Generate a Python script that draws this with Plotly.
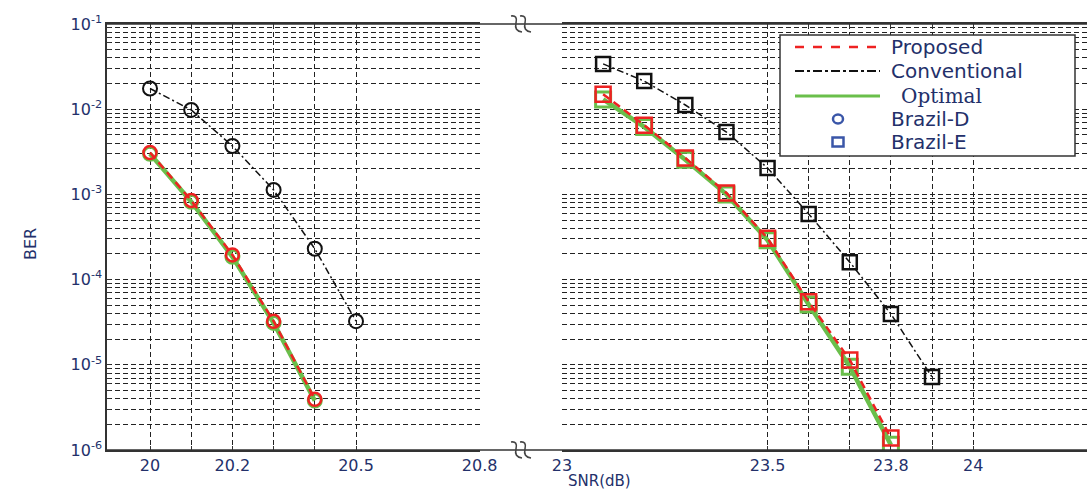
import plotly.graph_objects as go

# ---------------- data ----------------
snr_d_conv = [20.0, 20.1, 20.2, 20.3, 20.4, 20.5]
ber_d_conv = [1.75e-2, 9.8e-3, 3.7e-3, 1.13e-3, 2.3e-4, 3.25e-5]
snr_d_prop = [20.0, 20.1, 20.2, 20.3, 20.4]
ber_d_prop = [3.1e-3, 8.5e-4, 1.95e-4, 3.25e-5, 3.95e-6]
ber_d_opt = [3.0e-3, 8.2e-4, 1.85e-4, 3.1e-5, 3.8e-6]

snr_e_conv = [23.1, 23.2, 23.3, 23.4, 23.5, 23.6, 23.7, 23.8, 23.9]
ber_e_conv = [3.4e-2, 2.14e-2, 1.12e-2, 5.4e-3, 2.04e-3, 5.9e-4, 1.6e-4, 3.95e-5, 7.2e-6]
snr_e_prop = [23.1, 23.2, 23.3, 23.4, 23.5, 23.6, 23.7, 23.8]
ber_e_prop = [1.5e-2, 6.5e-3, 2.67e-3, 1.04e-3, 3.05e-4, 5.5e-5, 1.14e-5, 1.38e-6]
ber_e_opt = [1.3e-2, 6.2e-3, 2.55e-3, 1.0e-3, 2.9e-4, 5.1e-5, 9.5e-6, 1.15e-6]

x1_ticks = [20.0, 20.1, 20.2, 20.3, 20.4, 20.5, 20.8]
x1_labels = ["20", "", "20.2", "", "", "20.5", "20.8"]
x2_ticks = [23.0, 23.5, 23.6, 23.7, 23.8, 23.9, 24.0]
x2_labels = ["23", "23.5", "", "", "23.8", "", "24"]
y_decades = [-6, -5, -4, -3, -2, -1]

legend_names = ["Proposed", "Conventional", "Optimal", "Brazil-D", "Brazil-E"]

# ---------------- styles ----------------
RED = "#ee2222"
GREEN = "#6abf4b"
BLACK = "#111111"
BLUE = "#3a56a8"
TXT = "#23306a"
GRID = "#222222"

W, H = 1087, 491
ML, MR, MT, MB = 107, 0, 24, 41
PW, PH = W - ML - MR, H - MT - MB


def px(x):
    return (x - ML) / PW


def py(y):
    return (H - MB - y) / PH


yvals, ytext = [], []
for d in y_decades:
    for k in range(1, 10):
        if d == -1 and k > 1:
            break
        yvals.append(k * 10.0 ** d)
        ytext.append("10<sup>%d</sup>" % d if k == 1 else "")

fig = go.Figure()


def add_series(x, y, xa, ya, color, width, dash, symbol, msize, mwidth):
    fig.add_trace(go.Scatter(
        x=x, y=y, xaxis=xa, yaxis=ya, mode="lines+markers",
        line=dict(color=color, width=width, dash=dash),
        marker=dict(symbol=symbol, size=msize, color=color,
                    line=dict(color=color, width=mwidth)),
        showlegend=False, hoverinfo="x+y"))


# left segment (Brazil-D, circles)
add_series(snr_d_prop, ber_d_opt, "x", "y", GREEN, 4.5, "solid", "circle-open", 13, 3)
add_series(snr_d_prop, ber_d_prop, "x", "y", RED, 2.5, "8px,5px", "circle-open", 13, 2.5)
add_series(snr_d_conv, ber_d_conv, "x", "y", BLACK, 1.5, "7px,3px,2px,3px", "circle-open", 14, 2)
# right segment (Brazil-E, squares)
add_series(snr_e_prop, ber_e_opt, "x2", "y2", GREEN, 4.5, "solid", "square-open", 15, 3)
add_series(snr_e_prop, ber_e_prop, "x2", "y2", RED, 2.5, "8px,5px", "square-open", 15, 2.5)
add_series(snr_e_conv, ber_e_conv, "x2", "y2", BLACK, 1.5, "7px,3px,2px,3px", "square-open", 14, 2.5)

tickfont = dict(family="DejaVu Sans", size=16, color=TXT)
xcommon = dict(showgrid=True, gridcolor=GRID, griddash="5px,3px", gridwidth=1,
               showline=True, linecolor="#333333", linewidth=1.5, mirror="ticks",
               ticks="inside", ticklen=4, tickcolor="#333333", automargin=False,
               tickmode="array", tickfont=tickfont, zeroline=False)

fig.update_layout(
    template="none",
    width=W, height=H, autosize=False,
    margin=dict(l=ML, r=MR, t=MT, b=MB, pad=0, autoexpand=False),
    paper_bgcolor="white", plot_bgcolor="white",
    showlegend=False,
    xaxis=dict(domain=[0, px(480)], range=[19.8956, 20.801],
               tickvals=x1_ticks, ticktext=x1_labels, anchor="y", **xcommon),
    xaxis2=dict(domain=[px(562), 1], range=[23.0, 24.277],
                tickvals=x2_ticks, ticktext=x2_labels, anchor="y2", **xcommon),
    yaxis=dict(type="log", range=[-6, -1], domain=[0, 1], anchor="x",
               tickmode="array", tickvals=yvals, ticktext=ytext, automargin=False,
               showgrid=True, gridcolor=GRID, griddash="5px,3px", gridwidth=1,
               showline=True, linecolor="#333333", linewidth=1.5,
               ticks="inside", ticklen=4, tickcolor="#333333",
               tickfont=tickfont, zeroline=False),
    yaxis2=dict(type="log", range=[-6, -1], domain=[0, 1], anchor="x2", matches="y",
                tickmode="array", tickvals=yvals, ticktext=ytext, automargin=False,
                showticklabels=False, showgrid=True, gridcolor=GRID,
                griddash="5px,3px", gridwidth=1, ticks="", showline=False,
                zeroline=False),
)

shapes = []
# continuous top and bottom frame lines across the break
for yy in (0, 1):
    shapes.append(dict(type="line", xref="paper", yref="paper", x0=0, x1=1, y0=yy, y1=yy,
                       line=dict(color="#333333", width=1.5)))
# break marks
for yy in (1, 0):
    for dx in (-5, 4):
        shapes.append(dict(type="path", xref="paper", yref="paper",
                           xsizemode="pixel", ysizemode="pixel",
                           xanchor=px(522), yanchor=yy,
                           path="M %d,8 Q %d,9 %d,1 Q %d,-7 %d,-8" % (dx - 6, dx + 1, dx - 1, dx - 3, dx + 5),
                           line=dict(color="#444444", width=1.6)))

# legend box
shapes.append(dict(type="rect", xref="paper", yref="paper",
                   x0=px(780), x1=px(1075), y0=py(156), y1=py(35),
                   fillcolor="white", line=dict(color="#333333", width=1.5), layer="above"))
leg_rows = [47, 71, 96, 119, 142]
leg_styles = [(RED, 2.5, "dash"), (BLACK, 2, "dashdot"), (GREEN, 3, "solid")]
for (col, wd, ds), yy in zip(leg_styles, leg_rows[:3]):
    shapes.append(dict(type="line", xref="paper", yref="paper", layer="above",
                       x0=px(795), x1=px(880), y0=py(yy), y1=py(yy),
                       line=dict(color=col, width=wd, dash=ds)))
shapes.append(dict(type="circle", xref="paper", yref="paper", layer="above",
                   xsizemode="pixel", ysizemode="pixel", xanchor=px(838), yanchor=py(leg_rows[3]),
                   x0=-5, x1=5, y0=-4.5, y1=4.5, line=dict(color=BLUE, width=2.5)))
shapes.append(dict(type="rect", xref="paper", yref="paper", layer="above",
                   xsizemode="pixel", ysizemode="pixel", xanchor=px(838), yanchor=py(leg_rows[4]),
                   x0=-5.5, x1=5.5, y0=-4.5, y1=4.5, line=dict(color=BLUE, width=2.5)))
fig.update_layout(shapes=shapes)

annotations = []
for i, (name, yy) in enumerate(zip(legend_names, leg_rows)):
    if name == "Optimal":
        fam, size, xx = "DejaVu Serif", 20, 899
    else:
        fam, size, xx = "DejaVu Sans", 20, 889
    annotations.append(dict(text=name, xref="paper", yref="paper", x=px(xx), y=py(yy),
                            xanchor="left", yanchor="middle", showarrow=False,
                            font=dict(family=fam, size=size, color=TXT)))
annotations.append(dict(text="SNR(dB)", xref="paper", yref="paper", x=px(599), y=py(481),
                        xanchor="center", yanchor="middle", showarrow=False,
                        font=dict(family="DejaVu Sans", size=15, color=TXT)))
annotations.append(dict(text="BER", xref="paper", yref="paper", x=px(30), y=py(244),
                        xanchor="center", yanchor="middle", showarrow=False, textangle=-90,
                        font=dict(family="DejaVu Sans", size=16, color=TXT)))
fig.update_layout(annotations=annotations)

post = ("document.documentElement.style.overflow='hidden';"
        "document.body.style.overflow='hidden';document.body.style.margin='0';"
        "Plotly.relayout('{plot_id}', {width: %d, height: %d});" % (W, H))
fig.write_html("out.html", config={"responsive": False}, post_script=post)
